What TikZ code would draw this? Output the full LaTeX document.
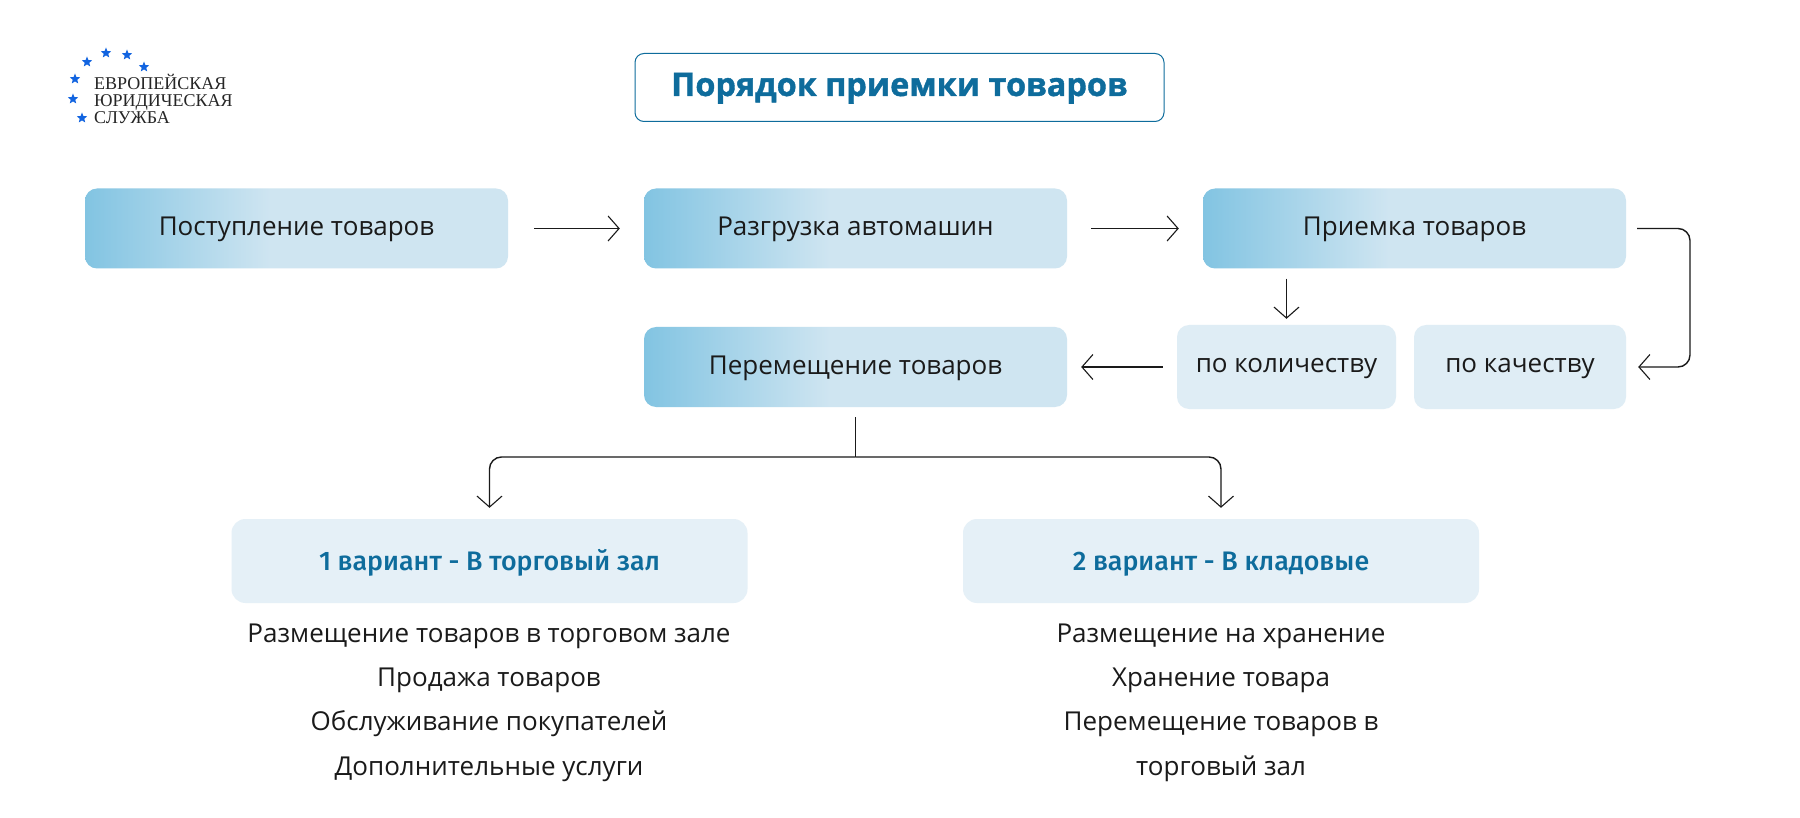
\documentclass[tikz,border=0pt]{standalone}
\usepackage{fontspec}
\setmainfont{Open Sans}
\newfontfamily\headf{Open Sans}[BoldFeatures={FakeBold=1.2}]
\newfontfamily\subf{Fira Sans Medium}
\newfontfamily\logof{Liberation Serif}
\usetikzlibrary{arrows.meta,shapes.geometric,calc}
\definecolor{gradA}{HTML}{82C4E2}
\definecolor{gradB}{HTML}{CFE5F1}
\definecolor{lightA}{HTML}{DFEDF5}
\definecolor{lightB}{HTML}{E5F0F7}
\definecolor{headc}{HTML}{0E6C9C}
\definecolor{starc}{HTML}{1264E0}
\definecolor{inkc}{HTML}{1A1A1A}
\pgfdeclarehorizontalshading{boxgrad}{100bp}{color(0bp)=(gradA); color(25bp)=(gradA); color(47bp)=(gradB); color(100bp)=(gradB)}
\tikzset{
 x=1pt,y=-1pt,
 box/.style={rounded corners=12pt,minimum width=423pt,minimum height=80pt,inner sep=0pt,text=inkc,text height=18pt,text depth=6pt,font=\fontsize{26}{30}\selectfont},
 gradbox/.style={box,shade,shading=boxgrad,text height=20pt},
 lightbox/.style={box,fill=lightA,minimum height=84pt},
 variant/.style={rounded corners=14pt,fill=lightB,minimum width=516pt,minimum height=84pt,inner sep=0pt,text=headc,text height=24pt,text depth=6pt,font=\subf\fontsize{26.8}{30}\selectfont},
 listline/.style={inner sep=0pt,text=inkc,text height=24pt,text depth=6pt,font=\fontsize{26}{30}\selectfont},
 logoline/.style={anchor=base west,inner sep=0pt,text=black!85,font=\logof\fontsize{18}{20}\selectfont},
 starn/.style={star,star points=5,star point ratio=2.3,fill=starc,minimum size=11pt,inner sep=0pt},
 conn/.style={draw=inkc,line width=1.1pt},
 bent/.style={line width=1.4pt,rounded corners=12pt},
 arr/.style={conn,-{Straight Barb[length=11pt,width=25pt,line width=1.1pt]}},
}
\begin{document}
\begin{tikzpicture}
\useasboundingbox (0,0) rectangle (1800,818);
\fill[white] (0,0) rectangle (1800,818);
% logo
\node[starn] (s1) at (106,53) {};
\node[starn] (s2) at (127,55) {};
\node[starn] (s3) at (144,67) {};
\node[starn] (s4) at (87,62) {};
\node[starn] (s5) at (75,79) {};
\node[starn] (s6) at (73,99) {};
\node[starn] (s7) at (82,118) {};
\node[logoline] (l1) at (94,90) {ЕВРОПЕЙСКАЯ};
\node[logoline] (l2) at (94,107) {ЮРИДИЧЕСКАЯ};
\node[logoline] (l3) at (94,124) {СЛУЖБА};
% title
\node[draw=headc,line width=1pt,rounded corners=9pt,minimum width=529pt,minimum height=68pt,inner sep=0pt,text=headc,text height=25pt,text depth=8pt,font=\headf\bfseries\fontsize{32.4}{36}\selectfont] (title) at (899.5,87.5) {Порядок приемки товаров};
% boxes
\node[gradbox] (b1) at (296.5,228.5) {Поступление товаров};
\node[gradbox] (b2) at (855.5,228.5) {Разгрузка автомашин};
\node[gradbox] (b3) at (1414.5,228.5) {Приемка товаров};
\node[gradbox,text height=22pt] (b4) at (855.5,367) {Перемещение товаров};
\node[lightbox,minimum width=219pt] (kol) at (1286.5,367) {по количеству};
\node[lightbox,minimum width=212pt] (kach) at (1520,367) {по качеству};
\node[variant] (v1) at (489.5,561) {1 вариант - В торговый зал};
\node[variant] (v2) at (1221,561) {2 вариант - В кладовые};
% lists
\node[listline] (a1) at (489,633) {Размещение товаров в торговом зале};
\node[listline] (a2) at (489,677) {Продажа товаров};
\node[listline] (a3) at (489,721) {Обслуживание покупателей};
\node[listline] (a4) at (489,766) {Дополнительные услуги};
\node[listline] (c1) at (1221,633) {Размещение на хранение};
\node[listline] (c2) at (1221,677) {Хранение товара};
\node[listline] (c3) at (1221,721) {Перемещение товаров в};
\node[listline] (c4) at (1221,766) {торговый зал};
% connectors
\coordinate (rt) at (1690,297);
\coordinate (bus) at (855.5,457);
\draw[arr,shorten <=26pt,shorten >=24pt] (b1.east) -- (b2.west);
\draw[arr,shorten <=24pt,shorten >=24pt] (b2.east) -- (b3.west);
\draw[arr,shorten <=10pt,shorten >=6pt] (b3.south -| kol.north) -- (kol.north);
\draw[arr,bent,shorten <=11pt,shorten >=12pt] (b3.east) -- (b3.east -| rt) -- (kach.east -| rt) -- (kach.east);
\draw[arr,shorten <=14pt,shorten >=14pt] (kol.west) -- (b4.east);
\draw[conn,shorten <=10pt] (b4.south) -- (bus);
\draw[arr,bent,shorten >=11pt] (bus) -- (bus -| v1.north) -- (v1.north);
\draw[arr,bent,shorten >=11pt] (bus) -- (bus -| v2.north) -- (v2.north);
\end{tikzpicture}
\end{document}
